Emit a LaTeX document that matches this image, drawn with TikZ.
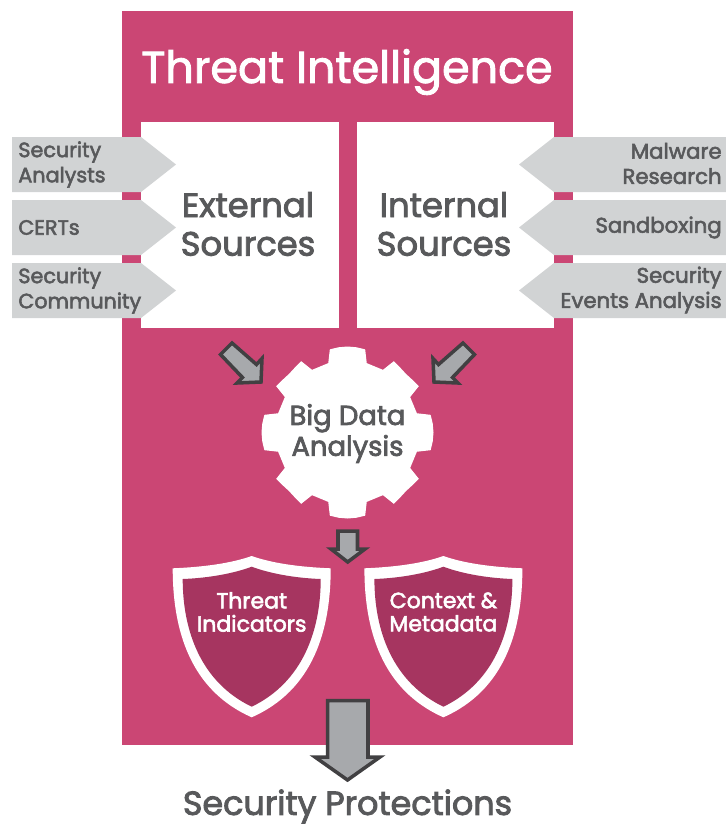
\documentclass[tikz,border=0pt]{standalone}
\usepackage{fontspec}
\setmainfont{Poppins}
\newfontfamily\medfont{Poppins}[FakeBold=2.6]
\newfontfamily\titlefont{Poppins}[FakeBold=2]
\definecolor{mainpink}{HTML}{CB4674}
\definecolor{shielddark}{HTML}{A63560}
\definecolor{tagrey}{HTML}{D1D3D4}
\definecolor{inkgrey}{HTML}{58595B}
\definecolor{arrowfill}{HTML}{A7A9AC}
\definecolor{arrowedge}{HTML}{414042}
\tikzset{
  x=0.02cm,y=-0.02cm,
  blockarrow/.style={draw=arrowedge,fill=arrowfill,line width=2pt,miter limit=10,line join=miter},
  tagshape/.style={fill=tagrey},
  taglabel/.style={text=inkgrey,font=\medfont\fontsize{11.8}{14.3}\selectfont,inner sep=0pt},
  taglabelr/.style={taglabel,font=\medfont\fontsize{12.1}{14.3}\selectfont},
  bigword/.style={text=inkgrey,font=\medfont\fontsize{19.2}{22}\selectfont,align=center,inner sep=0pt},
  shieldword/.style={text=white,font=\medfont\fontsize{12.5}{13.2}\selectfont,align=center,inner sep=0pt},
}
\newcommand{\shieldat}[1]{%
  \begin{scope}[xshift=#1*0.02cm]
    \fill[white] (172.7,568.3) .. controls (205,567) and (232,563) .. (251.7,556)
      .. controls (271.4,563) and (298.4,567) .. (330.7,568.3)
      .. controls (330.7,630) and (313.4,690) .. (251.7,717.3)
      .. controls (190,690) and (172.7,630) .. cycle;
    \fill[shielddark] (182.7,579) .. controls (210,578) and (235,573) .. (251.7,566.7)
      .. controls (268.4,573) and (293.4,578) .. (320.7,579)
      .. controls (320.7,630) and (303,682) .. (251.7,706.7)
      .. controls (200.4,682) and (182.7,630) .. cycle;
  \end{scope}}
\begin{document}
\begin{tikzpicture}
\useasboundingbox (0,0) rectangle (726,825);
\fill[mainpink] (122,11) rectangle (573,745);
\fill[white] (141,122) rectangle (339,328);
\fill[white] (357,122) rectangle (554,328);
\foreach \t in {137,200,263}{
  \fill[tagshape] (12,\t) -- (141,\t) -- (176,\t+27.5) -- (141,\t+55) -- (12,\t+55) -- cycle;
  \fill[tagshape] (726,\t) -- (554,\t) -- (519,\t+27.5) -- (554,\t+55) -- (726,\t+55) -- cycle;
}
\node[taglabel,anchor=west,align=left] (sa) at (18,164.5) {Security\\Analysts};
\node[taglabel,anchor=west,align=left] (ce) at (18,227.5) {CERTs};
\node[taglabel,anchor=west,align=left] (sc) at (18,290.5) {Security\\Community};
\node[taglabelr,anchor=east,align=right] (mr) at (722,163.5) {Malware\\Research};
\node[taglabelr,anchor=east,align=right] (sb) at (722,227.5) {Sandboxing};
\node[taglabelr,anchor=east,align=right] (se) at (722,290) {Security\\Events Analysis};
\node[text=white,font=\titlefont\fontsize{25.3}{30}\selectfont,inner sep=0pt] (title) at (347,72) {Threat Intelligence};
\node[bigword] (ext) at (248,224) {External\\Sources};
\node[bigword] (int) at (444,224) {Internal\\Sources};
\begin{scope}[shift={(347.5,432.5)}]
\fill[white] (-15.5:72)
  \foreach \a/\q/\r in {0/85.7/86,45/83.6/82.8,90/85.7/86,135/83.6/82.8,180/85.7/86,225/83.6/82.8,270/85.7/86,315/83.6/82.8}{
    -- (\a-15.5:72) -- (\a-12:85) -- (\a-6:\q) -- (\a:\r) -- (\a+6:\q) -- (\a+12:85) -- (\a+15.5:72)
  } -- cycle;
\end{scope}
\node[text=inkgrey,font=\medfont\fontsize{15.6}{17.6}\selectfont,align=center,inner sep=0pt] (gear) at (347.5,433.5) {Big Data\\Analysis};
\draw[blockarrow] (232,343) -- (220.5,354.5) -- (242.5,377.5) -- (237,383) -- (261,382) -- (262,358.5) -- (256.5,364.5) -- cycle;
\draw[blockarrow] (463,343) -- (474.5,354.5) -- (452.5,377.5) -- (458,383) -- (434,382) -- (433,358.5) -- (438.5,364.5) -- cycle;
\draw[blockarrow] (338,531) -- (357.5,531) -- (357.5,549) -- (365,549) -- (347.7,562) -- (331,549) -- (338,549) -- cycle;
\shieldat{0}
\shieldat{191.7}
\node[shieldword] (ti) at (251.7,612) {Threat\\Indicators};
\node[shieldword] (cm) at (443.4,612) {Context \&\\Metadata};
\draw[blockarrow] (327.7,700.5) -- (368,700.5) -- (368,757) -- (380,757) -- (347.5,780) -- (315,757) -- (327.7,757) -- cycle;
\node[text=inkgrey,font=\medfont\fontsize{19}{20}\selectfont,inner sep=0pt] (sp) at (347.5,806.5) {Security Protections};
\end{tikzpicture}
\end{document}
